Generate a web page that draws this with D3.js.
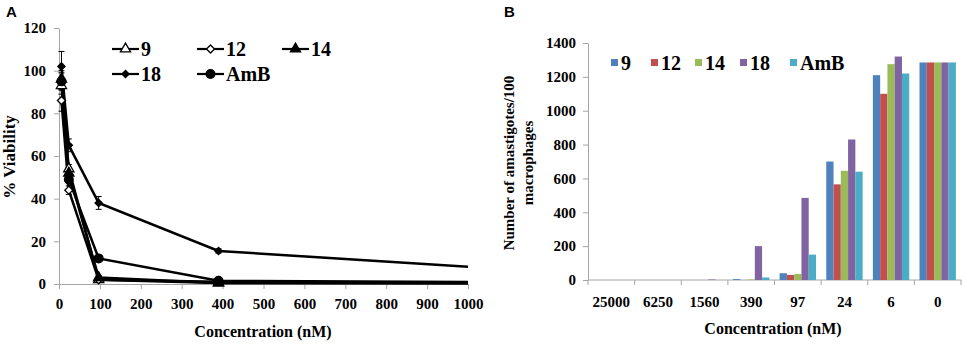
<!DOCTYPE html>
<html>
<head>
<meta charset="utf-8">
<script src="https://cdn.jsdelivr.net/npm/d3@7"></script>
<style>
  body { margin: 0; background: #fff; }
  .axis path, .axis line { stroke: #a6a6a6; }
</style>
</head>
<body>
<svg id="chart" width="964" height="346"></svg>
<script>
// Panel A: viability curves
const concA = [6, 24, 97, 390, 1560];
const seriesA = ["9", "12", "14", "18", "AmB"];
const viability = {
  "9":   [93, 54, 2, 0.5, 0.3],
  "12":  [86, 44, 2, 1, 0.5],
  "14":  [96, 52, 3, 0.5, 0.3],
  "18":  [102, 65, 38, 15.5, 1.2],
  "AmB": [95, 49, 12, 1.5, 0.5]
};
const errA = {
  "9":   [4, 2, 1, 0, 0],
  "12":  [5, 2, 1, 0, 0],
  "14":  [4, 2, 1, 0, 0],
  "18":  [7, 3, 3, 1, 0],
  "AmB": [4, 2, 1, 0, 0]
};
const yTicksA = [0, 20, 40, 60, 80, 100, 120];
const xTicksA = [0, 100, 200, 300, 400, 500, 600, 700, 800, 900, 1000];

// Panel B: amastigote counts
const concB = ["25000", "6250", "1560", "390", "97", "24", "6", "0"];
const seriesB = ["9", "12", "14", "18", "AmB"];
const amastigotes = {
  "9":   [0, 0, 0, 5, 40, 700, 1210, 1285],
  "12":  [0, 0, 0, 0, 30, 565, 1100, 1285],
  "14":  [0, 0, 0, 3, 35, 645, 1275, 1285],
  "18":  [0, 0, 3, 200, 485, 830, 1320, 1285],
  "AmB": [0, 0, 0, 15, 150, 640, 1220, 1285]
};
const colorsB = ["#4F81BD", "#C0504D", "#9BBB59", "#8064A2", "#4BACC6"];
const yTicksB = [0, 200, 400, 600, 800, 1000, 1200, 1400];

const serif = "'Liberation Serif', 'Times New Roman', Times, serif";
const svg = d3.select("#chart");

// ---------- Panel A ----------
const xA = d3.scaleLinear().domain([0, 1000]).range([59, 468]);
const yA = d3.scaleLinear().domain([0, 120]).range([284, 28]);

svg.append("text").attr("class", "panel").attr("x", 6).attr("y", 17).text("A");

svg.append("g").attr("class", "axis")
  .attr("transform", "translate(0,284)")
  .call(d3.axisBottom(xA).tickValues(xTicksA).tickFormat(d3.format("d"))
    .tickSize(5).tickSizeOuter(0).tickPadding(9))
  .selectAll("text").style("font-size", "15px");

svg.append("g").attr("class", "axis")
  .attr("transform", "translate(59,0)")
  .call(d3.axisLeft(yA).tickValues(yTicksA).tickSize(5).tickSizeOuter(0).tickPadding(8))
  .selectAll("text").style("font-size", "15px");

svg.append("text").attr("x", 263).attr("y", 337).attr("text-anchor", "middle")
  .style("font-size", "16px").text("Concentration (nM)");
svg.append("text").attr("transform", "translate(15,157) rotate(-90)")
  .attr("text-anchor", "middle").style("font-size", "17px").text("% Viability");

svg.append("clipPath").attr("id", "clipA")
  .append("rect").attr("x", 40).attr("y", 0).attr("width", 428).attr("height", 300);

const gA = svg.append("g").attr("clip-path", "url(#clipA)");
const lineA = d3.line().x((d, i) => xA(concA[i])).y(d => yA(d));

// diamond as rotated square
const symbolOf = {
  "9":   {type: d3.symbolTriangle, fill: "#fff", size: 45, rot: 0},
  "12":  {type: d3.symbolSquare, fill: "#fff", size: 32, rot: 45},
  "14":  {type: d3.symbolTriangle, fill: "#000", size: 45, rot: 0},
  "18":  {type: d3.symbolSquare, fill: "#000", size: 26, rot: 45},
  "AmB": {type: d3.symbolCircle, fill: "#000", size: 60, rot: 0}
};

seriesA.forEach(s => {
  gA.append("path").datum(viability[s]).attr("d", lineA)
    .attr("fill", "none").attr("stroke", "#000").attr("stroke-width", 2.5);
});
seriesA.forEach(s => {
  viability[s].forEach((v, i) => {
    const e = errA[s][i];
    if (e > 0) {
      const cx = xA(concA[i]);
      gA.append("line").attr("x1", cx).attr("x2", cx)
        .attr("y1", yA(v - e)).attr("y2", yA(v + e)).attr("stroke", "#000").attr("stroke-width", 1);
      [v - e, v + e].forEach(t => gA.append("line").attr("x1", cx - 3).attr("x2", cx + 3)
        .attr("y1", yA(t)).attr("y2", yA(t)).attr("stroke", "#000").attr("stroke-width", 1));
    }
  });
});
seriesA.forEach(s => {
  const sym = symbolOf[s];
  gA.selectAll(null).data(viability[s].slice(0, 4)).enter().append("path")
    .attr("transform", (d, i) => `translate(${xA(concA[i])},${yA(d)}) rotate(${sym.rot})`)
    .attr("d", d3.symbol().type(sym.type).size(sym.size))
    .attr("fill", sym.fill).attr("stroke", "#000").attr("stroke-width", 1.3);
});

// legend A
const legA = [
  {s: "9", x: 112, y: 49}, {s: "12", x: 197, y: 49}, {s: "14", x: 282, y: 49},
  {s: "18", x: 112, y: 74}, {s: "AmB", x: 197, y: 74}
];
legA.forEach(l => {
  const sym = symbolOf[l.s];
  svg.append("line").attr("x1", l.x).attr("x2", l.x + 27).attr("y1", l.y).attr("y2", l.y)
    .attr("stroke", "#000").attr("stroke-width", 2.2);
  svg.append("path").attr("transform", `translate(${l.x + 13.5},${l.y}) rotate(${sym.rot})`)
    .attr("d", d3.symbol().type(sym.type).size(sym.size))
    .attr("fill", sym.fill).attr("stroke", "#000").attr("stroke-width", 1.3);
  svg.append("text").attr("x", l.x + 29).attr("y", l.y + 7).style("font-size", "20px").text(l.s);
});

// ---------- Panel B ----------
const xB = d3.scaleBand().domain(concB).range([588, 961]).paddingInner(0.22).paddingOuter(0.11);
const xSub = d3.scaleBand().domain(seriesB).range([0, xB.bandwidth()]);
const yB = d3.scaleLinear().domain([0, 1400]).range([280, 43]);

svg.append("text").attr("class", "panel").attr("x", 504).attr("y", 17).text("B");

svg.append("g").attr("class", "axis")
  .attr("transform", "translate(588,0)")
  .call(d3.axisLeft(yB).tickValues(yTicksB).tickFormat(d3.format("d"))
    .tickSize(5).tickSizeOuter(0).tickPadding(7))
  .selectAll("text").style("font-size", "15px");

const xAxisB = svg.append("g").attr("class", "axis").attr("transform", "translate(0,280)");
xAxisB.append("line").attr("x1", 588).attr("x2", 961).attr("y1", 0).attr("y2", 0);
const step = (961 - 588) / concB.length;
d3.range(concB.length + 1).forEach(i => {
  xAxisB.append("line").attr("x1", 588 + i * step).attr("x2", 588 + i * step)
    .attr("y1", 0).attr("y2", 5);
});
xAxisB.selectAll("text.tl").data(concB).enter().append("text")
  .attr("x", d => xB(d) + xB.bandwidth() / 2).attr("y", 27)
  .attr("text-anchor", "middle").style("font-size", "15px").text(d => d);

svg.append("text").attr("x", 773).attr("y", 334).attr("text-anchor", "middle")
  .style("font-size", "16px").text("Concentration (nM)");
svg.append("text").attr("transform", "translate(514,163) rotate(-90)")
  .attr("text-anchor", "middle").style("font-size", "15px").text("Number of amastigotes/100");
svg.append("text").attr("transform", "translate(533,163) rotate(-90)")
  .attr("text-anchor", "middle").style("font-size", "15px").text("macrophages");

seriesB.forEach((s, si) => {
  svg.append("g").selectAll("rect").data(amastigotes[s]).enter().append("rect")
    .attr("x", (d, i) => xB(concB[i]) + xSub(s))
    .attr("width", xSub.bandwidth())
    .attr("y", d => yB(d))
    .attr("height", d => yB(0) - yB(d))
    .attr("fill", colorsB[si]);
});

// legend B
const legBx = [611, 651, 695, 740, 790];
seriesB.forEach((s, i) => {
  svg.append("rect").attr("x", legBx[i]).attr("y", 59).attr("width", 7).attr("height", 7)
    .attr("fill", colorsB[i]);
  svg.append("text").attr("x", legBx[i] + 10).attr("y", 70).style("font-size", "20px").text(s);
});

// fonts: bold serif everywhere, sans for panel letters
svg.selectAll("text")
  .attr("font-family", null)
  .style("font-family", serif)
  .style("font-weight", "bold")
  .style("fill", "#000");
svg.selectAll(".axis").attr("font-family", null);
svg.selectAll("text.panel")
  .style("font-family", "'Liberation Sans', Arial, sans-serif")
  .style("font-size", "15px");
</script>
</body>
</html>
